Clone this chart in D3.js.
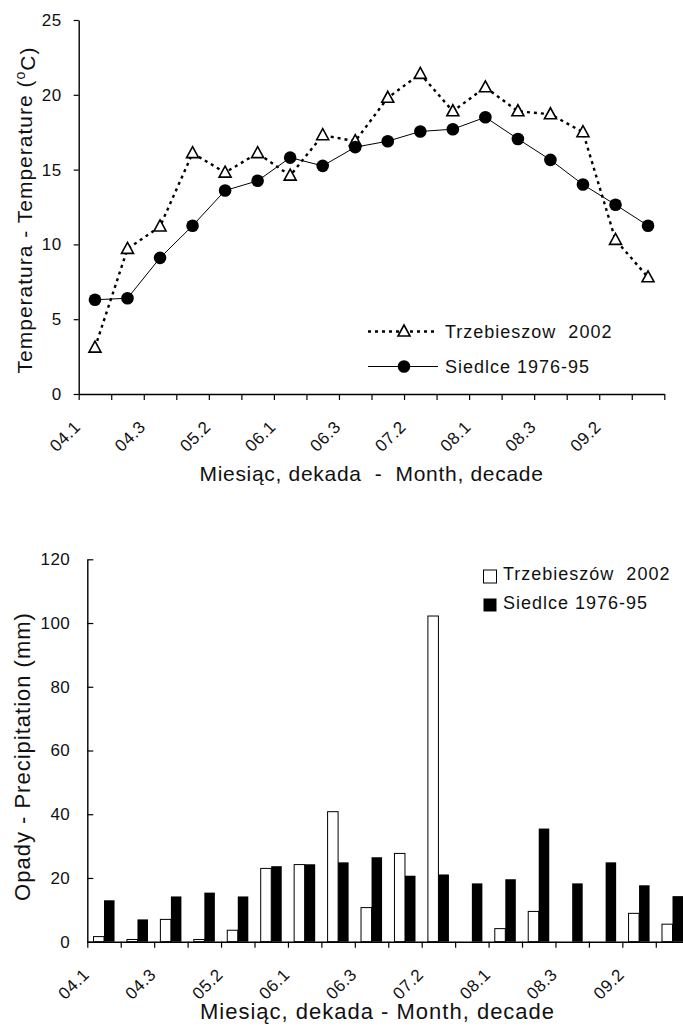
<!DOCTYPE html>
<html>
<head>
<meta charset="utf-8">
<script src="https://cdn.jsdelivr.net/npm/d3@7"></script>
<style>
  body { margin: 0; background: #fff; }
  svg { display: block; font-family: "Liberation Sans", Arial, sans-serif; }
</style>
</head>
<body>
<svg id="chart" width="683" height="1027"></svg>
<script>
// Ten-day periods (month.decade), April to September
const decades = ["04.1","04.2","04.3","05.1","05.2","05.3","06.1","06.2","06.3",
                 "07.1","07.2","07.3","08.1","08.2","08.3","09.1","09.2","09.3"];
const labelledDecades = ["04.1","04.3","05.2","06.1","06.3","07.2","08.1","08.3","09.2"];

// Mean air temperature (°C)
const tempTrzebieszow = [3.1, 9.7, 11.2, 16.1, 14.8, 16.1, 14.6, 17.3, 16.9,
                         19.8, 21.4, 18.9, 20.5, 18.9, 18.7, 17.5, 10.3, 7.8];
const tempSiedlce = [6.3, 6.4, 9.1, 11.25, 13.6, 14.25, 15.8, 15.25, 16.5,
                     16.9, 17.55, 17.7, 18.5, 17.05, 15.65, 14.0, 12.65, 11.25];

// Precipitation totals (mm)
const precipTrzebieszow = [1.6, 0.7, 7.0, 0.7, 3.6, 23.0, 24.2, 40.8, 10.7,
                           27.7, 102.2, 0, 4.1, 9.5, 0, 0, 8.9, 5.5];
const precipSiedlce = [13.0, 7.0, 14.2, 15.4, 14.2, 23.7, 24.3, 24.9, 26.5,
                       20.7, 21.1, 18.3, 19.6, 35.5, 18.3, 24.9, 17.7, 14.3];

const tempTicks = [0, 5, 10, 15, 20, 25];
const precipTicks = [0, 20, 40, 60, 80, 100, 120];

const seriesTemp = ["Trzebieszow  2002", "Siedlce 1976-95"];
const seriesPrecip = ["Trzebieszów  2002", "Siedlce 1976-95"];

const svg = d3.select("#chart");

function styleAxis(g) {
  g.selectAll("path.domain").attr("stroke", "#000").attr("stroke-width", 1.4);
  g.selectAll(".tick line").attr("stroke", "#000").attr("stroke-width", 1.2);
  g.selectAll(".tick text")
    .attr("fill", "#111")
    .style("font-size", "17px")
    .style("letter-spacing", "0.5px")
    .style("font-family", '"Liberation Sans", Arial, sans-serif');
}

function categoryAxis(g, xs, y0, decLabels, labelDrop) {
  // boundary ticks between decades
  const idx = d3.scaleLinear().domain([0, decades.length])
    .range([xs.range()[0], xs.range()[1]]);
  const ax = g.append("g")
    .attr("transform", `translate(0,${y0})`)
    .call(d3.axisBottom(idx).tickValues(d3.range(decades.length + 1))
      .tickSize(6).tickSizeOuter(0).tickFormat(""));
  styleAxis(ax);
  g.append("g").selectAll("text")
    .data(decLabels)
    .join("text")
    .attr("transform", d => `translate(${xs(d) - 1},${y0 + labelDrop}) rotate(-45)`)
    .attr("text-anchor", "end")
    .attr("dominant-baseline", "central")
    .style("font-size", "17px")
    .style("letter-spacing", "0.5px")
    .attr("fill", "#111")
    .text(d => d);
}

/* ---------------- Temperature panel ---------------- */
{
  const g = svg.append("g");
  const x = d3.scaleBand().domain(decades).range([78.7, 664.3]).padding(0);
  const y = d3.scaleLinear().domain([0, 25]).range([394, 20]);
  const cx = d => x(d) + x.bandwidth() / 2;

  const ay = g.append("g")
    .attr("transform", `translate(${x.range()[0]},0)`)
    .call(d3.axisLeft(y).tickValues(tempTicks).tickSize(5).tickSizeOuter(0).tickPadding(12));
  styleAxis(ay);

  categoryAxis(g, x, y(0), labelledDecades, 30);

  // Siedlce: solid line with filled circles
  const line = d3.line().x((d, i) => cx(decades[i])).y(d => y(d));
  g.append("path").datum(tempSiedlce)
    .attr("d", line).attr("fill", "none").attr("stroke", "#000").attr("stroke-width", 1);
  // Trzebieszow: dotted line with open triangles
  g.append("path").datum(tempTrzebieszow)
    .attr("d", line).attr("fill", "none").attr("stroke", "#000")
    .attr("stroke-width", 2.4).attr("stroke-dasharray", "3,4");

  const tri = "M0,-6.5L6,4.5L-6,4.5Z";
  g.append("g").selectAll("path")
    .data(tempTrzebieszow).join("path")
    .attr("transform", (d, i) => `translate(${cx(decades[i])},${y(d)})`)
    .attr("d", tri).attr("fill", "#fff").attr("stroke", "#000").attr("stroke-width", 1.6);
  g.append("g").selectAll("circle")
    .data(tempSiedlce).join("circle")
    .attr("cx", (d, i) => cx(decades[i])).attr("cy", d => y(d))
    .attr("r", 6.3).attr("fill", "#000");

  // legend
  const lg = g.append("g");
  const ly = [331.5, 366.5];
  lg.append("line").attr("x1", 368).attr("x2", 438).attr("y1", ly[0]).attr("y2", ly[0])
    .attr("stroke", "#000").attr("stroke-width", 2.4).attr("stroke-dasharray", "3,4");
  lg.append("path").attr("d", tri).attr("transform", `translate(404,${ly[0]})`)
    .attr("fill", "#fff").attr("stroke", "#000").attr("stroke-width", 1.6);
  lg.append("line").attr("x1", 368).attr("x2", 438).attr("y1", ly[1]).attr("y2", ly[1])
    .attr("stroke", "#000").attr("stroke-width", 1);
  lg.append("circle").attr("cx", 404).attr("cy", ly[1]).attr("r", 6.3).attr("fill", "#000");
  lg.selectAll("text").data(seriesTemp).join("text")
    .attr("x", 445).attr("y", (d, i) => ly[i] + 6.5)
    .style("font-size", "18px").style("letter-spacing", "1px")
    .style("white-space", "pre").attr("fill", "#111")
    .text(d => d);

  // axis titles
  g.append("text")
    .attr("x", (x.range()[0] + x.range()[1]) / 2).attr("y", 481)
    .attr("text-anchor", "middle")
    .style("font-size", "21px").style("letter-spacing", "0.7px").style("white-space", "pre")
    .attr("fill", "#111")
    .text("Miesiąc, dekada  -  Month, decade");
  const yt = g.append("text")
    .attr("transform", `translate(31.5,${(y(0) + y(25)) / 2 + 3}) rotate(-90)`)
    .attr("text-anchor", "middle")
    .style("font-size", "21px").style("letter-spacing", "1px")
    .attr("fill", "#111");
  yt.append("tspan").text("Temperatura - Temperature (");
  yt.append("tspan").attr("dy", "-0.45em").style("font-size", "14px").text("o");
  yt.append("tspan").attr("dy", "0.45em").text("C)");
}

/* ---------------- Precipitation panel ---------------- */
{
  const g = svg.append("g");
  const x = d3.scaleBand().domain(decades).range([87.3, 87.3 + 18 * 33.44]).padding(0);
  const xs = d3.scaleBand().domain(["t", "s"]).range([0, x.bandwidth()])
    .paddingInner(0).paddingOuter(0.59);
  const y = d3.scaleLinear().domain([0, 120]).range([941.7, 559.3]);

  const ay = g.append("g")
    .attr("transform", `translate(${x.range()[0]},0)`)
    .call(d3.axisLeft(y).tickValues(precipTicks).tickSize(-6).tickSizeOuter(0).tickPadding(17));
  styleAxis(ay);

  const rows = decades.map((d, i) => ({ dec: d, t: precipTrzebieszow[i], s: precipSiedlce[i] }));

  g.append("g").selectAll("rect.t")
    .data(rows.filter(r => r.t > 0)).join("rect")
    .attr("x", r => x(r.dec) + xs("t"))
    .attr("y", r => y(r.t))
    .attr("width", xs.bandwidth())
    .attr("height", r => y(0) - y(r.t))
    .attr("fill", "#fff").attr("stroke", "#000").attr("stroke-width", 1);
  g.append("g").selectAll("rect.s")
    .data(rows).join("rect")
    .attr("x", r => x(r.dec) + xs("s"))
    .attr("y", r => y(r.s))
    .attr("width", xs.bandwidth())
    .attr("height", r => y(0) - y(r.s))
    .attr("fill", "#000");

  categoryAxis(g, x, y(0), labelledDecades, 30);

  // legend
  const lg = g.append("g");
  const ly = [576.5, 605];
  lg.append("rect").attr("x", 483.5).attr("y", ly[0] - 6.5).attr("width", 13).attr("height", 13)
    .attr("fill", "#fff").attr("stroke", "#000").attr("stroke-width", 1);
  lg.append("rect").attr("x", 483.5).attr("y", ly[1] - 6.5).attr("width", 13).attr("height", 13)
    .attr("fill", "#000");
  lg.selectAll("text").data(seriesPrecip).join("text")
    .attr("x", 503).attr("y", (d, i) => ly[i] + 3.5)
    .style("font-size", "18px").style("letter-spacing", "1px")
    .style("white-space", "pre").attr("fill", "#111")
    .text(d => d);

  // axis titles
  g.append("text")
    .attr("x", 200).attr("y", 1019)
    .style("font-size", "22px").style("letter-spacing", "1px")
    .attr("fill", "#111")
    .text("Miesiąc, dekada - Month, decade");
  g.append("text")
    .attr("transform", `translate(30,${(y(0) + y(120)) / 2 + 6}) rotate(-90)`)
    .attr("text-anchor", "middle")
    .style("font-size", "22px").style("letter-spacing", "1px")
    .attr("fill", "#111")
    .text("Opady - Precipitation (mm)");
}
</script>
</body>
</html>
